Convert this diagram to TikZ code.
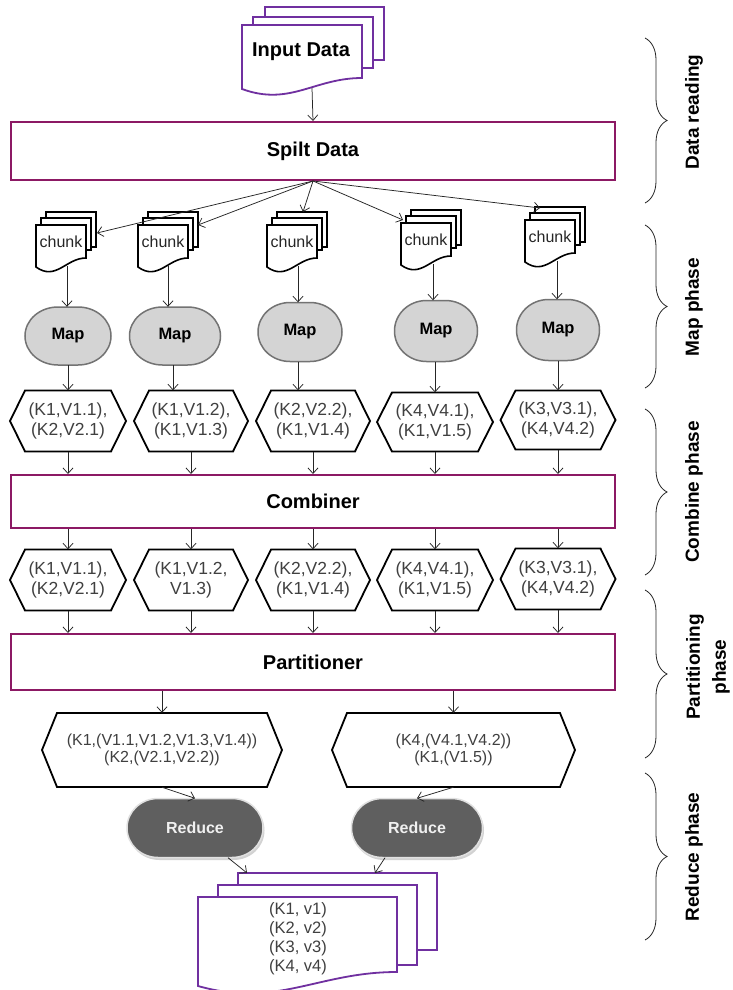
\documentclass[tikz,border=0pt]{standalone}
\usepackage{fontspec}
\setmainfont{Liberation Sans}
\usetikzlibrary{arrows.meta,decorations.pathreplacing,shadows,calc}
\definecolor{docpurple}{RGB}{112,48,160}
\definecolor{boxmag}{RGB}{140,25,100}
\definecolor{mapfill}{RGB}{212,212,212}
\definecolor{mapline}{RGB}{115,115,115}
\definecolor{redfill}{RGB}{95,95,95}
\definecolor{txtgray}{RGB}{64,64,64}

\newcommand\wavedoc[6]{\draw[#1] ({#2},{#3}) -- ({#4},{#3}) -- ({#4},{(#5)-(#6)}) .. controls ({(#2)+0.6*((#4)-(#2))},{(#5)-(#6)}) and ({(#2)+0.4*((#4)-(#2))},{(#5)+1.6*(#6)}) .. ({#2},{#5}) -- cycle;}

\newcommand\chunkdoc[3]{%
  \draw[chunksheet] ({#2-15},{#3-13}) rectangle ({#2+35},{#3+22});
  \draw[chunksheet] ({#2-20},{#3-7}) rectangle ({#2+30},{#3+25});
  \wavedoc{chunksheet}{#2-25}{#3}{#2+25}{#3+42}{9}
  \node[chunktxt] (#1) at ({#2},{#3+17}) {chunk};
}

\newcommand\hexbox[7]{% name, x, y, w, h, style, text
  \draw[hexline] ({#2-#4/2},{#3}) -- ({#2-#4/2+15},{#3-#5/2}) -- ({#2+#4/2-15},{#3-#5/2}) -- ({#2+#4/2},{#3}) -- ({#2+#4/2-15},{#3+#5/2}) -- ({#2-#4/2+15},{#3+#5/2}) -- cycle;
  \node[#6, minimum width=#4pt, minimum height=#5pt] (#1) at (#2,#3) {#7};
}

\newcommand\softbox[9]{% name, x, y, w, h, r, path style, node style, text
  \path[#7] ({#2-#4/2},{#3}) .. controls ({#2-#4/2},{#3-0.28*#5}) and ({#2-#4/2+0.45*#6},{#3-#5/2}) .. ({#2-#4/2+#6},{#3-#5/2}) -- ({#2+#4/2-#6},{#3-#5/2}) .. controls ({#2+#4/2-0.45*#6},{#3-#5/2}) and ({#2+#4/2},{#3-0.28*#5}) .. ({#2+#4/2},{#3}) .. controls ({#2+#4/2},{#3+0.28*#5}) and ({#2+#4/2-0.45*#6},{#3+#5/2}) .. ({#2+#4/2-#6},{#3+#5/2}) -- ({#2-#4/2+#6},{#3+#5/2}) .. controls ({#2-#4/2+0.45*#6},{#3+#5/2}) and ({#2-#4/2},{#3+0.28*#5}) .. cycle;
  \node[#8, minimum width=#4pt, minimum height=#5pt] (#1) at (#2,#3) {#9};
}

\begin{document}
\begin{tikzpicture}[x=1pt,y=-1pt,
  arr/.style={draw=black!85, line width=0.75pt, -{Straight Barb[length=5.5pt,width=10pt]}},
  bigbox/.style={draw=boxmag, line width=2pt, fill=white, minimum width=604pt, inner sep=0pt, font=\bfseries\fontsize{20}{24}\selectfont},
  mappath/.style={draw=mapline, line width=1.5pt, fill=mapfill},
  maptext/.style={inner sep=0pt, font=\bfseries\fontsize{16.5}{19}\selectfont},
  redpath/.style={draw=white!88!black, line width=1.5pt, fill=redfill, drop shadow={shadow xshift=1.5pt, shadow yshift=-2.5pt, opacity=0.35}},
  redtext/.style={inner sep=0pt, font=\bfseries\fontsize{16}{19}\selectfont, text=white!94!black},
  hexlab/.style={inner sep=0pt, align=center, text=txtgray, font=\fontsize{17.5}{20.5}\selectfont},
  hexlabB/.style={inner sep=0pt, align=center, text=txtgray, font=\fontsize{16}{17.5}\selectfont},
  hexline/.style={draw=black, line width=1.8pt, fill=white, line join=miter},
  docsheet/.style={draw=docpurple, line width=1.8pt, fill=white},
  chunksheet/.style={draw=black, line width=1.6pt, fill=white},
  chunktxt/.style={inner sep=0pt, text=black!85, font=\fontsize{16}{19}\selectfont},
  bracedec/.style={decorate, decoration={brace, amplitude=22pt}, draw=black!85, line width=0.8pt},
  phase/.style={rotate=90, font=\bfseries\fontsize{19}{26}\selectfont, align=center}
]
\useasboundingbox (0,0) rectangle (733,990);
\fill[white] (0,0) rectangle (733,990);

% ---- Input data document
\draw[docsheet] (265,7) rectangle (384,60);
\draw[docsheet] (253,17) rectangle (373,68);
\wavedoc{docsheet}{242}{25}{362}{89}{11}
\node[font=\bfseries\fontsize{20}{24}\selectfont] (indata) at (301,52) {Input Data};
\coordinate (inb) at (312,88);

% ---- big boxes
\node[bigbox, minimum height=58pt] (split) at (313,151) {Spilt Data};
\node[bigbox, minimum height=53pt] (comb) at (313,501.5) {Combiner};
\node[bigbox, minimum height=56pt] (part) at (313,662) {Partitioner};

\draw[arr] (inb) -- (split.north);

% ---- chunks
\chunkdoc{c1}{61}{225}
\chunkdoc{c2}{163}{225}
\chunkdoc{c3}{292}{225}
\chunkdoc{c4}{426}{223}
\chunkdoc{c5}{550}{220}

\coordinate (ct1) at (97,233);
\coordinate (ct2) at (198,225);
\coordinate (ct3) at (303,212);
\coordinate (ct4) at (403,220);
\coordinate (ct5) at (540,208);
\foreach \i in {1,...,5}{\draw[arr] (split.south) -- (ct\i);}

% ---- maps
\softbox{m1}{68}{336}{86}{58}{33}{mappath}{maptext}{Map}
\softbox{m2}{175}{336}{91}{58}{33}{mappath}{maptext}{Map}
\softbox{m3}{300}{332}{84}{59}{32}{mappath}{maptext}{Map}
\softbox{m4}{436}{331}{83}{61}{32}{mappath}{maptext}{Map}
\softbox{m5}{558}{330}{83}{61}{32}{mappath}{maptext}{Map}

\coordinate (cb1) at (67,266);
\coordinate (cb2) at (168,266);
\coordinate (cb3) at (298,266);
\coordinate (cb4) at (433,264);
\coordinate (cb5) at (557,261);
\foreach \i in {1,...,5}{\draw[arr] (cb\i) -- (cb\i |- m\i.north);}

% ---- hexagons row 1
\hexbox{h1}{68}{421}{116}{61}{hexlab}{(K1,V1.1),\\(K2,V2.1)}
\hexbox{h2}{191}{421}{114}{61}{hexlab}{(K1,V1.2),\\(K1,V1.3)}
\hexbox{h3}{313}{421}{114}{61}{hexlab}{(K2,V2.2),\\(K1,V1.4)}
\hexbox{h4}{435}{422}{116}{59}{hexlab}{(K4,V4.1),\\(K1,V1.5)}
\hexbox{h5}{558}{420}{115}{59}{hexlab}{(K3,V3.1),\\(K4,V4.2)}

\draw[arr] (m1.south) -- (m1.south |- h1.north);
\draw[arr] ([xshift=-2pt]m2.south) -- ([xshift=-2pt]m2.south |- h2.north);
\draw[arr] ([xshift=-2pt]m3.south) -- ([xshift=-2pt]m3.south |- h3.north);
\draw[arr] ([xshift=-1pt]m4.south) -- ([xshift=-1pt]m4.south |- h4.north);
\draw[arr] (m5.south) -- (m5.south |- h5.north);

% ---- hexagons row 2
\hexbox{g1}{68}{580}{116}{61}{hexlab}{(K1,V1.1),\\(K2,V2.1)}
\hexbox{g2}{191}{580}{114}{61}{hexlab}{(K1,V1.2,\\V1.3)}
\hexbox{g3}{313}{580}{114}{61}{hexlab}{(K2,V2.2),\\(K1,V1.4)}
\hexbox{g4}{435}{580}{116}{61}{hexlab}{(K4,V4.1),\\(K1,V1.5)}
\hexbox{g5}{558}{579}{115}{61}{hexlab}{(K3,V3.1),\\(K4,V4.2)}

\foreach \i in {1,...,5}{
  \draw[arr] (h\i.south) -- (h\i.south |- comb.north);
  \draw[arr] (g\i.north |- comb.south) -- (g\i.north);
  \draw[arr] (g\i.south) -- (g\i.south |- part.north);
}

% ---- partition outputs
\hexbox{pa}{162}{750}{240}{74}{hexlabB}{(K1,(V1.1,V1.2,V1.3,V1.4))\\(K2,(V2.1,V2.2))}
\hexbox{pb}{453.5}{750}{243}{74}{hexlabB}{(K4,(V4.1,V4.2))\\(K1,(V1.5))}
\draw[arr] (pa.north |- part.south) -- (pa.north);
\draw[arr] (pb.north |- part.south) -- (pb.north);

% ---- reduce
\softbox{r1}{195}{828}{136}{59}{31}{redpath}{redtext}{Reduce}
\softbox{r2}{417}{828}{131}{59}{31}{redpath}{redtext}{Reduce}
\draw[arr] (pa.south) -- (r1.north);
\draw[arr] (pb.south) -- (r2.north);

% ---- output document
\draw[docsheet] (238,873) rectangle (437,950);
\draw[docsheet] (218,885) rectangle (417,965);
\wavedoc{docsheet}{198}{897}{397}{986}{14}
\node[inner sep=0pt, align=center, text=txtgray, font=\fontsize{16.5}{19}\selectfont] (out) at (298,938.5) {(K1, v1)\\(K2, v2)\\(K3, v3)\\(K4, v4)};
\coordinate (ot1) at (247,873);
\coordinate (ot2) at (375,873);
\draw[arr] ([xshift=33pt]r1.south) -- (ot1);
\draw[arr] ([xshift=-32pt]r2.south) -- (ot2);

% ---- braces and phase labels
\draw[bracedec] (645,38) -- (645,203);
\draw[bracedec] (645,225) -- (645,388);
\draw[bracedec] (645,409) -- (645,575);
\draw[bracedec] (645,590) -- (645,758);
\draw[bracedec] (645,773) -- (645,940);
\node[phase] (ph1) at (694,112) {Data reading};
\node[phase] (ph2) at (694,307) {Map phase};
\node[phase] (ph3) at (694,492) {Combine phase};
\node[phase] (ph4) at (708,667) {Partitioning\\phase};
\node[phase] (ph5) at (694,857) {Reduce phase};
\end{tikzpicture}
\end{document}
